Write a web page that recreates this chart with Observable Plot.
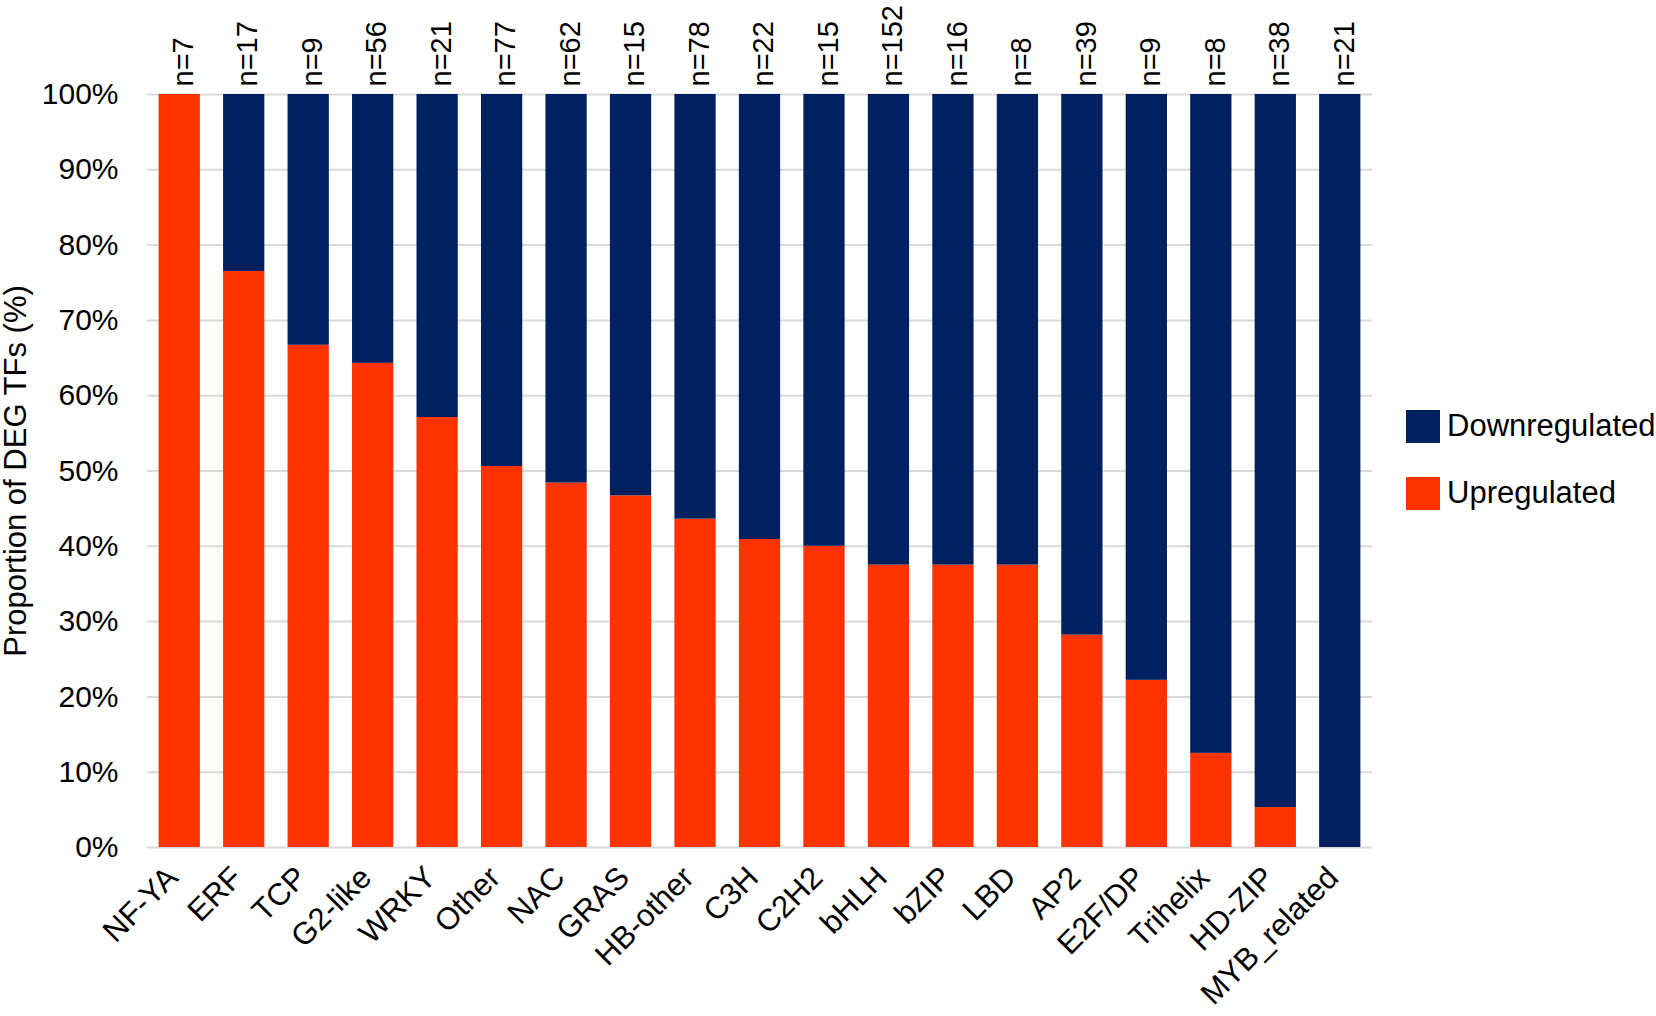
<!DOCTYPE html>
<html>
<head>
<meta charset="utf-8">
<script src="https://cdn.jsdelivr.net/npm/d3@7"></script>
<script src="https://cdn.jsdelivr.net/npm/@observablehq/plot@0.6"></script>
<style>
  html, body { margin: 0; padding: 0; background: #fff; }
  #wrap { position: relative; width: 1656px; height: 1016px; font-family: "Liberation Sans", Arial, sans-serif; color: #000; }
  .leg { position: absolute; display: flex; align-items: center; font-size: 31px; }
  .sw { width: 34px; height: 33px; margin-right: 7px; }
</style>
</head>
<body>
<div id="wrap"></div>
<script>
const categories = ["NF-YA","ERF","TCP","G2-like","WRKY","Other","NAC","GRAS","HB-other","C3H","C2H2","bHLH","bZIP","LBD","AP2","E2F/DP","Trihelix","HD-ZIP","MYB_related"];
const nCounts = [7,17,9,56,21,77,62,15,78,22,15,152,16,8,39,9,8,38,21];
const upPct = [100,76.5,66.7,64.3,57.1,50.6,48.4,46.7,43.6,40.9,40.0,37.5,37.5,37.5,28.2,22.2,12.5,5.3,0];
const downPct = [0,23.5,33.3,35.7,42.9,49.4,51.6,53.3,56.4,59.1,60.0,62.5,62.5,62.5,71.8,77.8,87.5,94.7,100];
const yTicks = [0,10,20,30,40,50,60,70,80,90,100];
const seriesNames = ["Upregulated","Downregulated"];
const seriesColors = ["#ff3300","#002060"];

const rows = [];
categories.forEach((c, i) => {
  rows.push({cat: c, type: "Upregulated", value: upPct[i]});
  rows.push({cat: c, type: "Downregulated", value: downPct[i]});
});
const nRows = categories.map((c, i) => ({cat: c, n: nCounts[i]}));

const font = "Liberation Sans, Arial, sans-serif";
const chart = Plot.plot({
  width: 1656,
  height: 1016,
  marginLeft: 147,
  marginRight: 284,
  marginTop: 94,
  marginBottom: 169,
  style: {fontFamily: font, color: "#000", background: "#fff", overflow: "visible"},
  x: {domain: categories, paddingInner: 0.36, paddingOuter: 0.18, round: false, axis: null},
  y: {domain: [0, 100], axis: null},
  color: {domain: seriesNames, range: seriesColors},
  marks: [
    Plot.gridY(yTicks, {stroke: "#d9d9d9", strokeOpacity: 1, strokeWidth: 2}),
    Plot.axisY(yTicks, {tickSize: 0, tickPadding: 29, fontSize: 30, tickFormat: d => d + "%", label: null}),
    Plot.barY(rows, {x: "cat", y: "value", fill: "type"}),
    Plot.text(nRows, {x: "cat", y: () => 100, text: d => "n=" + d.n, rotate: -90, textAnchor: "start", dy: -8, dx: 4, fontSize: 29, fill: "#000"}),
    Plot.text(categories, {x: d => d, frameAnchor: "bottom", text: d => d, rotate: -45, textAnchor: "end", dy: 32, dx: 0, fontSize: 31, fill: "#000"}),
    Plot.text(["Proportion of DEG TFs (%)"], {frameAnchor: "left", rotate: -90, textAnchor: "middle", dx: -131, fontSize: 31, fill: "#000"})
  ]
});
const wrap = document.getElementById("wrap");
wrap.appendChild(chart);

const legendTops = [408, 475];
["Downregulated","Upregulated"].forEach((name, k) => {
  const div = document.createElement("div");
  div.className = "leg";
  div.style.left = "1406px";
  div.style.top = legendTops[k] + "px";
  const sw = document.createElement("div");
  sw.className = "sw";
  sw.style.background = seriesColors[seriesNames.indexOf(name)];
  const t = document.createElement("span");
  t.textContent = name;
  div.appendChild(sw);
  div.appendChild(t);
  wrap.appendChild(div);
});
</script>
</body>
</html>
